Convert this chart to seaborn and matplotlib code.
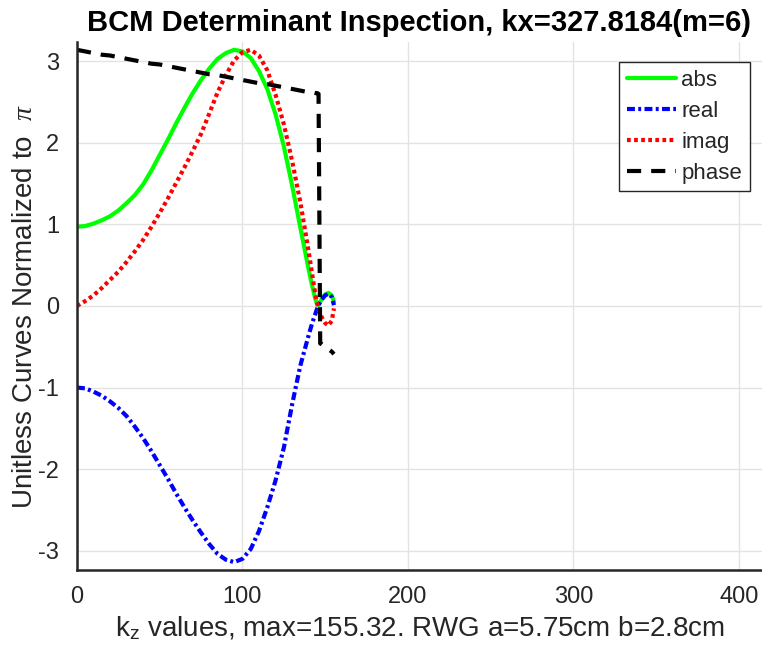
import matplotlib
matplotlib.use("Agg")
import matplotlib.pyplot as plt
import seaborn as sns
import pandas as pd

# k_z sample positions (the last one is the cutoff maximum)
kz = [0, 5, 10, 15, 20, 25, 30, 35, 40, 45, 50, 55, 60, 65, 70, 75, 80, 85, 90, 95,
      100, 105, 110, 115, 120, 125, 130, 135, 140, 142, 144, 145, 146, 147, 148, 150,
      152, 154, 155.32]

# determinant curves, each normalized to pi
det_abs = [0.97, 0.98, 1.01, 1.05, 1.10, 1.17, 1.26, 1.36, 1.49, 1.66, 1.85, 2.04, 2.24,
           2.43, 2.61, 2.77, 2.91, 3.03, 3.10, 3.14, 3.12, 3.04, 2.88, 2.66, 2.35, 1.96,
           1.48, 0.96, 0.45, 0.26, 0.09, 0.03, 0.01, 0.05, 0.09, 0.14, 0.16, 0.13, 0.05]
det_real = [-1.00, -1.01, -1.05, -1.10, -1.17, -1.25, -1.35, -1.48, -1.62, -1.78, -1.95,
            -2.12, -2.30, -2.47, -2.63, -2.78, -2.92, -3.04, -3.11, -3.14, -3.10, -2.98,
            -2.76, -2.47, -2.14, -1.74, -1.21, -0.73, -0.36, -0.22, -0.10, -0.04, 0.01,
            0.05, 0.08, 0.13, 0.15, 0.11, 0.01]
det_imag = [0.00, 0.06, 0.13, 0.22, 0.32, 0.42, 0.54, 0.67, 0.81, 0.97, 1.14, 1.32, 1.51,
            1.70, 1.90, 2.11, 2.36, 2.62, 2.83, 3.01, 3.11, 3.14, 3.07, 2.89, 2.59, 2.23,
            1.78, 1.27, 0.67, 0.41, 0.15, 0.04, -0.03, -0.09, -0.14, -0.21, -0.24, -0.18,
            -0.03]
det_phase = [3.14, 3.12, 3.10, 3.08, 3.07, 3.05, 3.03, 3.01, 2.99, 2.97, 2.96, 2.94, 2.92,
             2.90, 2.88, 2.86, 2.84, 2.83, 2.81, 2.79, 2.77, 2.75, 2.73, 2.72, 2.70, 2.68,
             2.66, 2.64, 2.62, 2.62, 2.61, 2.61, 2.60, -0.46, -0.47, -0.50, -0.53, -0.56,
             -0.59]

series_names = ["abs", "real", "imag", "phase"]

df = pd.DataFrame({"kz": kz, "abs": det_abs, "real": det_real,
                   "imag": det_imag, "phase": det_phase})

sns.set_style("white")
plt.rcParams["font.family"] = ["Liberation Sans", "DejaVu Sans"]
plt.rcParams["axes.unicode_minus"] = False
plt.rcParams["mathtext.fontset"] = "custom"
plt.rcParams["mathtext.rm"] = "Liberation Sans"
plt.rcParams["mathtext.it"] = "Liberation Serif:italic"

fig = plt.figure(figsize=(7.62, 6.58), dpi=100)
ax = fig.add_axes([0.101, 0.1333, 0.899, 0.8034])

lw = 3.0
styles = {
    "abs":   dict(color="#00ff00", dashes=None),
    "real":  dict(color="#0000ff", dashes=(1.9, 0.8, 0.7, 0.8)),
    "imag":  dict(color="#ff0000", dashes=(0.9, 0.8)),
    "phase": dict(color="#000000", dashes=(3.4, 2.4)),
}

for name in series_names:
    st = styles[name]
    line_ax = sns.lineplot(data=df, x="kz", y=name, ax=ax, color=st["color"],
                           linewidth=lw, label=name, sort=False)
    ln = line_ax.get_lines()[-1]
    if st["dashes"] is not None:
        ln.set_dashes(st["dashes"])
        ln.set_dash_capstyle("butt")

ax.set_xlim(0, 414)
ax.set_ylim(-3.24, 3.24)
ax.set_xticks([0, 100, 200, 300, 400])
ax.set_yticks([-3, -2, -1, 0, 1, 2, 3])
ax.grid(True, color="#e3e3e3", linewidth=1.0)
ax.set_axisbelow(True)

for side in ["top", "right"]:
    ax.spines[side].set_visible(False)
for side in ["left", "bottom"]:
    ax.spines[side].set_color("#262626")
    ax.spines[side].set_linewidth(1.8)

ax.tick_params(axis="both", direction="in", length=6, width=1.5, color="#262626",
               labelsize=17, labelcolor="#262626")
ax.tick_params(axis="x", pad=11)
ax.tick_params(axis="y", pad=13)

ax.set_title("BCM Determinant Inspection, kx=327.8184(m=6)", fontsize=21,
             fontweight="bold", color="black", pad=8)
ax.set_xlabel(r"k$_\mathregular{z}$ values, max=155.32. RWG a=5.75cm b=2.8cm",
              fontsize=20, color="#262626", labelpad=5)
ax.set_ylabel(r"Unitless Curves Normalized to  $\it{\pi}$", fontsize=20,
              color="#262626", labelpad=0)

leg = ax.legend(loc="upper right", bbox_to_anchor=(0.9825, 0.962), borderaxespad=0,
                fontsize=16, handlelength=2.2, handletextpad=0.25, borderpad=0.35,
                labelspacing=0.45, frameon=True, fancybox=False, framealpha=1)
leg.get_frame().set_edgecolor("#262626")
leg.get_frame().set_linewidth(1.0)

fig.savefig("out.png", dpi=100)
